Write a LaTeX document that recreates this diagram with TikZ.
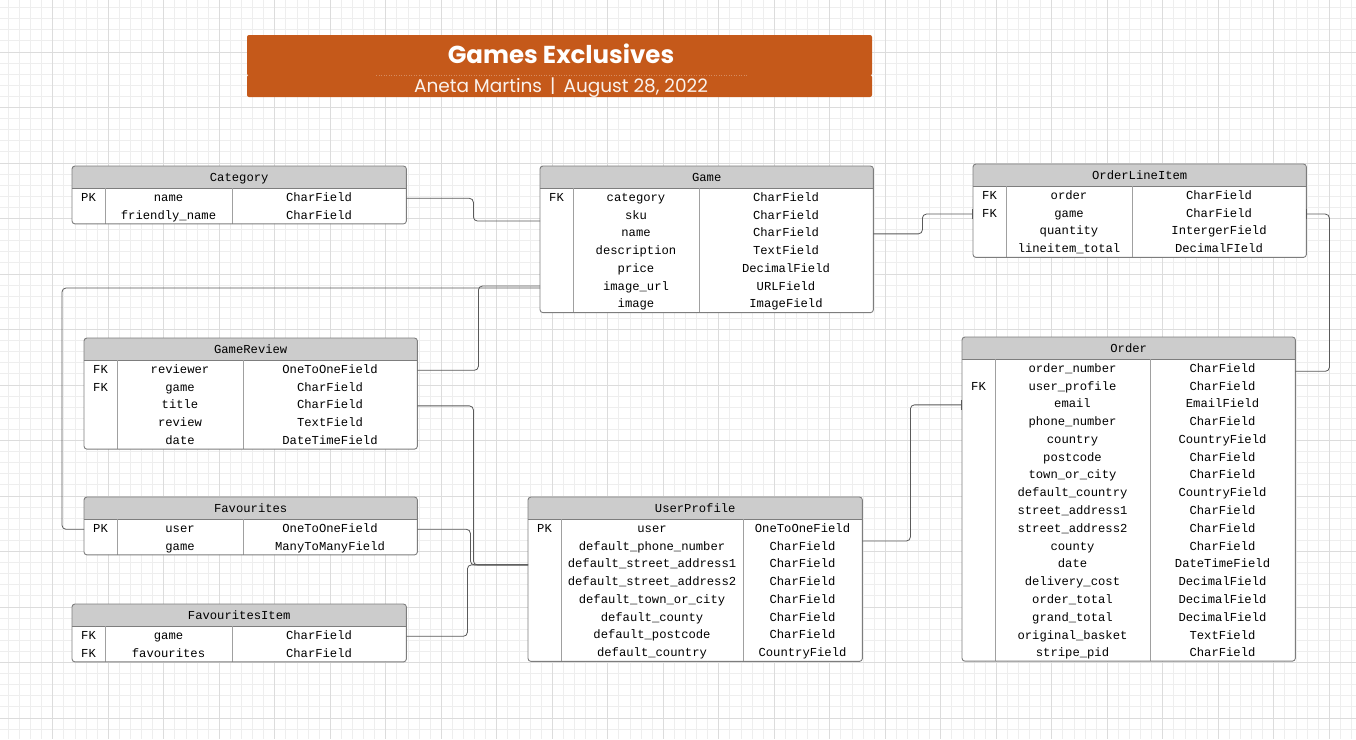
\documentclass[tikz,border=0pt]{standalone}
\usepackage{fontspec}
\setmonofont{Liberation Mono}
\newfontfamily\bannerfont{Poppins}
\usetikzlibrary{calc, arrows.meta}
\definecolor{banner}{RGB}{197,89,26}
\definecolor{headgrey}{RGB}{204,204,204}
\definecolor{edgegrey}{RGB}{125,125,125}
\definecolor{divgrey}{RGB}{160,160,160}
\definecolor{wiregrey}{RGB}{90,90,90}
\definecolor{minorgrid}{RGB}{238,238,238}
\definecolor{majorgrid}{RGB}{220,220,220}

% one entity box: name, title, x, y, width, 1st divider, 2nd divider, rows, fields
\newcommand{\erdtable}[9]{%
    \pgfmathsetmacro{\tabh}{22+17.75*#8}
    \node[tablebox, minimum width=#5pt, minimum height=\tabh pt] (#1) at (#3,#4) {};
    \fill[headgrey, rounded corners=3pt] (#1.north west) rectangle ++(#5,22);
    \fill[headgrey] ($(#1.north west)+(0,11)$) rectangle ++(#5,11);
    \node[cell] (#1-head) at ($(#1.north)+(0,12.3)$) {#2};
    \draw[edge] ($(#1.north west)+(0,22)$) -- ($(#1.north east)+(0,22)$);
    \draw[divider] ($(#1.north west)+(#6,22)$) -- ($(#1.south west)+(#6,0)$);
    \draw[divider] ($(#1.north west)+(#7,22)$) -- ($(#1.south west)+(#7,0)$);
    \draw[edge, rounded corners=3pt] (#1.north west) rectangle (#1.south east);
    \foreach \k/\n/\t [count=\i] in {#9} {
        \coordinate (#1-\i) at ($(#1.north west)+(0,{32.3+17.78*(\i-1)})$);
        \node[cell] (#1-\i-key) at ($(#1-\i)+({#6/2},0)$) {\k};
        \node[cell] (#1-\i-name) at ($(#1-\i)+({(#6+#7)/2},0)$) {\n};
        \node[cell] (#1-\i-type) at ($(#1-\i)+({(#7+#5)/2},0)$) {\t};
    }
}

\begin{document}
\begin{tikzpicture}[
    x=1pt, y=-1pt,
    tablebox/.style={rectangle,
        fill=white,
        anchor=north west,
        rounded corners=3pt,
        inner sep=0pt,
        },
    cell/.style={
        font=\ttfamily\fontsize{12.2}{14}\selectfont,
        text height=8.5pt,
        text depth=2.5pt,
        inner sep=0pt,
        },
    edge/.style={draw=edgegrey, line width=0.9pt},
    divider/.style={draw=divgrey, line width=0.9pt},
    wire/.style={draw=wiregrey, line width=0.8pt, rounded corners=4pt},
    onebar/.tip={Bar[width=10pt, line width=1pt]},
    banner_text/.style={text=white, font=\bannerfont\bfseries\fontsize{24.5}{28}\selectfont},
    banner_sub/.style={text=white!92!banner, font=\bannerfont\fontsize{18.5}{21}\selectfont},
    ]
    \useasboundingbox (0,0) rectangle (1356,739);
    \fill[white] (0,0) rectangle (1356,739);

    % background grid
    \foreach \g in {8.2,19.3,...,1356} \draw[minorgrid, line width=0.6pt] (\g,0) -- (\g,739);
    \foreach \g in {7.4,18.5,...,739} \draw[minorgrid, line width=0.6pt] (0,\g) -- (1356,\g);
    \foreach \g in {52.6,108.1,...,1356} \draw[majorgrid, line width=0.7pt] (\g,0) -- (\g,739);
    \foreach \g in {52.3,107.8,...,739} \draw[majorgrid, line width=0.7pt] (0,\g) -- (1356,\g);

    % title banner
    \fill[banner, rounded corners=2pt] (247,35) rectangle (872,75.5);
    \fill[banner, rounded corners=2pt] (247,75) rectangle (872,97);
    \draw[white!30!banner, dotted, line width=0.5pt] (376,75) -- (748,75);
    \node[banner_text] (title) at (561,54) {Games Exclusives};
    \node[banner_sub] (subtitle) at (561,87.5) {Aneta Martins \,|\, August 28, 2022};

    % entities
    \erdtable{category}{Category}{72}{166}{334}{33}{160}{2}
        {PK/name/CharField, /friendly\_name/CharField}
    \erdtable{game}{Game}{540}{166}{333}{33}{159}{7}
        {FK/category/CharField, /sku/CharField, /name/CharField,
         /description/TextField, /price/DecimalField, /image\_url/URLField,
         /image/ImageField}
    \erdtable{orderlineitem}{OrderLineItem}{973}{164}{333}{33}{159}{4}
        {FK/order/CharField, FK/game/CharField, /quantity/IntergerField,
         /lineitem\_total/DecimalFIeld}
    \erdtable{gamereview}{GameReview}{84}{338}{333}{33}{159}{5}
        {FK/reviewer/OneToOneField, FK/game/CharField, /title/CharField,
         /review/TextField, /date/DateTimeField}
    \erdtable{favourites}{Favourites}{84}{497}{333}{33}{159}{2}
        {PK/user/OneToOneField, /game/ManyToManyField}
    \erdtable{favouritesitem}{FavouritesItem}{72}{604}{334}{33}{160}{2}
        {FK/game/CharField, FK/favourites/CharField}
    \erdtable{userprofile}{UserProfile}{528}{497}{334}{33}{215}{8}
        {PK/user/OneToOneField, /default\_phone\_number/CharField,
         /default\_street\_address1/CharField, /default\_street\_address2/CharField,
         /default\_town\_or\_city/CharField, /default\_county/CharField,
         /default\_postcode/CharField, /default\_country/CountryField}
    \erdtable{order}{Order}{962}{337}{333}{33}{188}{17}
        {/order\_number/CharField, FK/user\_profile/CharField, /email/EmailField,
         /phone\_number/CharField, /country/CountryField, /postcode/CharField,
         /town\_or\_city/CharField, /default\_country/CountryField,
         /street\_address1/CharField, /street\_address2/CharField,
         /county/CharField, /date/DateTimeField, /delivery\_cost/DecimalField,
         /order\_total/DecimalField, /grand\_total/DecimalField,
         /original\_basket/TextField, /stripe\_pid/CharField}

    % relations
    \draw[wire] (category.east |- category-1) -- ++(67,0)
        |- ($(game.north west)+(0,55)$);
    \draw[wire] ($(game.north west)+(0,122)$)
        -| ($(favourites.west |- favourites-1)+(-22,0)$) -- (favourites.west |- favourites-1);
    \draw[wire] (gamereview.east |- gamereview-1) -- ++(61,0)
        |- ($(game.north west)+(0,120)$);
    \draw[wire, -onebar] (game.east |- game-3) -- ++(49,0)
        |- (orderlineitem.west |- orderlineitem-2);
    \draw[wire, onebar-] (orderlineitem.east |- orderlineitem-2) -- ++(23,0)
        |- ($(order.east |- order-1)+(0,2)$);
    \draw[wire, -onebar] ($(userprofile.north east)+(0,44)$) -- ++(48,0)
        |- (order.west |- order-3);
    \draw[wire] (gamereview.east |- gamereview-3) -- ++(56,0)
        |- (userprofile.west |- userprofile-3);
    \draw[wire] (favourites.east |- favourites-1) -- ++(53,0)
        |- (userprofile.west |- userprofile-3);
    \draw[wire] (favouritesitem.east |- favouritesitem-1) -- ++(61,0)
        |- (userprofile.west |- userprofile-3);

\end{tikzpicture}
\end{document}
